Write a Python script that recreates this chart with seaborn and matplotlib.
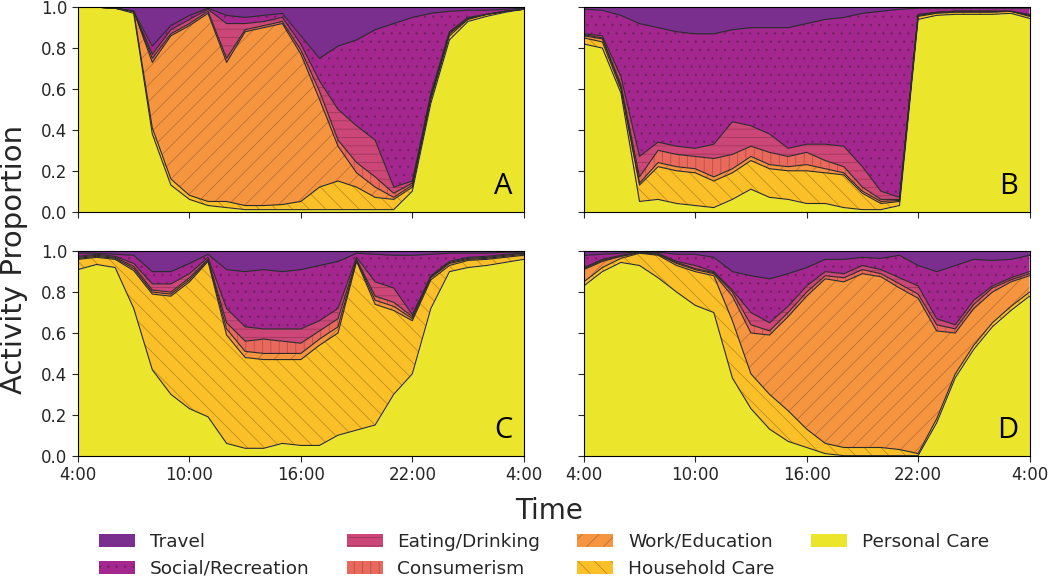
import numpy as np
import matplotlib
matplotlib.use("Agg")
import matplotlib.pyplot as plt
import matplotlib.patches as mpatches
import seaborn as sns

# hours from 4:00 to 4:00 next day
hours = list(range(4, 29))
tick_hours = [4, 10, 16, 22, 28]
tick_labels = ["4:00", "10:00", "16:00", "22:00", "4:00"]

activities = ["Travel", "Social/Recreation", "Eating/Drinking", "Consumerism",
              "Work/Education", "Household Care", "Personal Care"]
colors = ["#7a2f8f", "#a3278f", "#cc4677", "#e9695d", "#f6953f", "#fbbf27", "#ebe62c"]
hatches = ["", "..", "--", "||", "//", "\\\\", ""]
panel_letters = ["A", "B", "C", "D"]

# panel A
personal_a = [1.0, 1.0, .995, .97, .38, .13, .06, .03, .02, .01, .01, .01, .01, .01, .01, .01, .01, .01, .10, .53, .84, .93, .955, .975, .99]
household_a = [0, 0, 0, .01, .03, .03, .02, .02, .03, .02, .02, .025, .04, .11, .14, .11, .06, .05, .02, .02, .02, .01, .01, .005, 0]
work_a = [0, 0, 0, 0, .32, .70, .83, .92, .68, .85, .87, .885, .72, .43, .17, .07, .05, .01, .01, .01, .01, .005, 0, 0, 0]
consumer_a = [0, 0, 0, 0, .02, .01, .01, .01, .02, .01, .01, .01, .02, .04, .03, .05, .05, .02, .01, .01, .005, 0, 0, 0, 0]
eating_a = [0, 0, 0, 0, .02, .02, .02, .01, .17, .03, .02, .02, .03, .05, .15, .18, .18, .03, .01, .01, .005, .005, 0, 0, 0]
social_a = [0, 0, 0, 0, .04, .02, .02, .005, .04, .03, .03, .02, .04, .11, .31, .42, .54, .80, .80, .39, .10, .035, .02, .01, .005]
travel_a = [0, 0, .005, .02, .19, .09, .04, .01, .04, .05, .04, .03, .14, .25, .19, .16, .11, .08, .05, .03, .02, .015, .015, .01, .005]

# panel B
personal_b = [.82, .80, .58, .05, .06, .04, .03, .02, .06, .11, .07, .06, .04, .04, .02, .01, .01, .03, .94, .96, .965, .965, .965, .97, .945]
household_b = [.03, .03, .02, .08, .16, .16, .16, .13, .13, .14, .14, .14, .16, .15, .16, .08, .03, .02, .015, .01, .01, .01, .01, .01, .01]
work_b = [.01, .015, .01, .01, .02, .02, .02, .02, .02, .02, .02, .02, .03, .02, .01, .01, .01, .005, .005, .005, .005, .005, .005, 0, .005]
consumer_b = [.005, .005, .01, .03, .06, .06, .06, .09, .07, .05, .06, .05, .06, .04, .03, .02, .01, .005, 0, 0, 0, 0, 0, 0, 0]
eating_b = [.005, .01, .04, .10, .04, .04, .04, .07, .16, .10, .09, .04, .04, .08, .10, .10, .04, .01, .005, 0, 0, 0, 0, 0, .005]
social_b = [.12, .125, .30, .65, .56, .56, .56, .54, .45, .48, .52, .59, .59, .61, .63, .75, .88, .92, .03, .02, .015, .015, .015, .015, .03]
travel_b = [.01, .015, .04, .08, .10, .12, .13, .13, .11, .10, .10, .10, .08, .06, .05, .03, .02, .01, .005, .005, .005, .005, .005, .005, .005]

# panel C
personal_c = [.91, .935, .92, .72, .42, .30, .23, .19, .06, .036, .036, .06, .05, .05, .10, .125, .15, .30, .40, .72, .90, .92, .93, .945, .96]
household_c = [.05, .035, .04, .185, .37, .48, .62, .76, .53, .444, .434, .41, .42, .49, .50, .825, .59, .41, .26, .14, .03, .035, .03, .025, .02]
work_c = [.005, .005, .005, .01, .01, .01, .01, .005, .03, .03, .03, .03, .03, .03, .03, .005, .02, .02, .01, .01, .01, .005, .005, .005, .005]
consumer_c = [.005, .005, .005, .01, .01, .01, .01, .005, .03, .05, .07, .06, .05, .04, .04, .005, .02, .02, .01, .005, .005, .005, .005, .005, .005]
eating_c = [.005, .005, .005, .015, .03, .04, .02, .01, .07, .07, .05, .06, .07, .05, .05, .01, .07, .07, .01, .005, .005, .005, .005, .005, 0]
social_c = [.015, .005, .01, .04, .06, .06, .05, .015, .19, .27, .29, .28, .29, .27, .23, .02, .135, .16, .29, .105, .04, .02, .015, .01, .005]
travel_c = [.01, .01, .015, .02, .10, .10, .06, .015, .09, .10, .09, .10, .09, .07, .05, .01, .015, .02, .02, .015, .01, .01, .01, .005, .005]

# panel D
personal_d = [.83, .90, .945, .93, .87, .80, .735, .70, .38, .23, .13, .07, .04, .01, 0, 0, 0, 0, 0, .16, .38, .52, .63, .71, .78]
household_d = [.02, .02, .02, .06, .11, .13, .165, .18, .28, .17, .17, .15, .09, .05, .04, .04, .04, .03, .01, .02, .02, .02, .02, .02, .02]
work_d = [.06, .03, .01, .003, .005, .01, .01, .01, .12, .20, .29, .46, .65, .805, .81, .85, .835, .79, .76, .43, .20, .18, .15, .12, .08]
consumer_d = [.005, .005, 0, .001, 0, .005, .005, .005, .02, .04, .02, .02, .02, .015, .02, .02, .015, .02, .02, .03, .02, .02, .02, .01, .01]
eating_d = [.005, .005, .005, .001, .005, .005, .015, .005, .01, .06, .04, .03, .03, .02, .02, .02, .02, .03, .04, .03, .02, .02, .01, .01, .01]
social_d = [.06, .025, .01, .003, .005, .035, .055, .07, .09, .18, .215, .16, .09, .06, .07, .04, .055, .11, .10, .23, .29, .20, .125, .09, .08]
travel_d = [.02, .015, .02, .002, .005, .015, .015, .03, .10, .12, .135, .11, .08, .04, .04, .03, .035, .02, .07, .10, .07, .04, .045, .04, .02]

panels = [
    [travel_a, social_a, eating_a, consumer_a, work_a, household_a, personal_a],
    [travel_b, social_b, eating_b, consumer_b, work_b, household_b, personal_b],
    [travel_c, social_c, eating_c, consumer_c, work_c, household_c, personal_c],
    [travel_d, social_d, eating_d, consumer_d, work_d, household_d, personal_d],
]

sns.set_style("ticks")
plt.rcParams["font.family"] = ["DejaVu Sans"]
plt.rcParams["hatch.linewidth"] = 0.5

hatch_col = (0.2, 0.1, 0.1, 0.35)

fig = plt.figure(figsize=(10.5, 5.76), dpi=100)
lefts = [0.0743, 0.556]
bottoms = [0.6325, 0.2089]
w, h = 0.4245, 0.355

for i, series in enumerate(panels):
    row, col = divmod(i, 2)
    ax = fig.add_axes([lefts[col], bottoms[row], w, h])
    # bottom layer first: personal care ... travel on top
    ys = [np.array(s) for s in series[::-1]]
    polys = ax.stackplot(hours, *ys, colors=colors[::-1], linewidth=0)
    for p, hch in zip(polys, hatches[::-1]):
        if hch:
            p.set_hatch(hch)
            p.set_edgecolor(hatch_col)
            p.set_linewidth(0)
    # outlines between the layers
    cum = np.cumsum(ys, axis=0)
    for c in cum[:-1]:
        sns.lineplot(x=hours, y=c, ax=ax, color="#2b2b2b", linewidth=0.8)
    ax.set_xlim(4, 28)
    ax.set_ylim(0, 1)
    ax.set_xticks(tick_hours)
    ax.set_yticks([0, 0.2, 0.4, 0.6, 0.8, 1.0])
    ax.tick_params(direction="out", length=4, width=0.8, labelsize=12)
    if row == 1:
        ax.set_xticklabels(tick_labels)
    else:
        ax.set_xticklabels([])
    if col == 0:
        ax.set_yticklabels(["0.0", "0.2", "0.4", "0.6", "0.8", "1.0"])
    else:
        ax.set_yticklabels([])
    for sp in ax.spines.values():
        sp.set_color("black")
        sp.set_linewidth(0.8)
    ax.text(0.975, 0.05, panel_letters[i], transform=ax.transAxes, ha="right", va="bottom",
            fontsize=21, family=["Open Sans", "DejaVu Sans"], color="black")

fig.text(0.013, 0.55, "Activity Proportion", rotation=90, ha="center", va="center",
         fontsize=21)
fig.text(0.523, 0.113, "Time", ha="center", va="center", fontsize=20)

handles = []
for name, c, hch in zip(activities, colors, hatches):
    handles.append(mpatches.Patch(facecolor=c, edgecolor=hatch_col,
                                  hatch=hch, linewidth=0, label=name))
fig.legend(handles=handles, loc="center left", bbox_to_anchor=(0.0943, 0.036), ncol=4,
           frameon=False, fontsize=13.3, handlelength=1.95, handleheight=0.7,
           columnspacing=2.0, handletextpad=0.8, labelspacing=0.5,
           borderpad=0, borderaxespad=0)

fig.savefig("out.png", dpi=100)
